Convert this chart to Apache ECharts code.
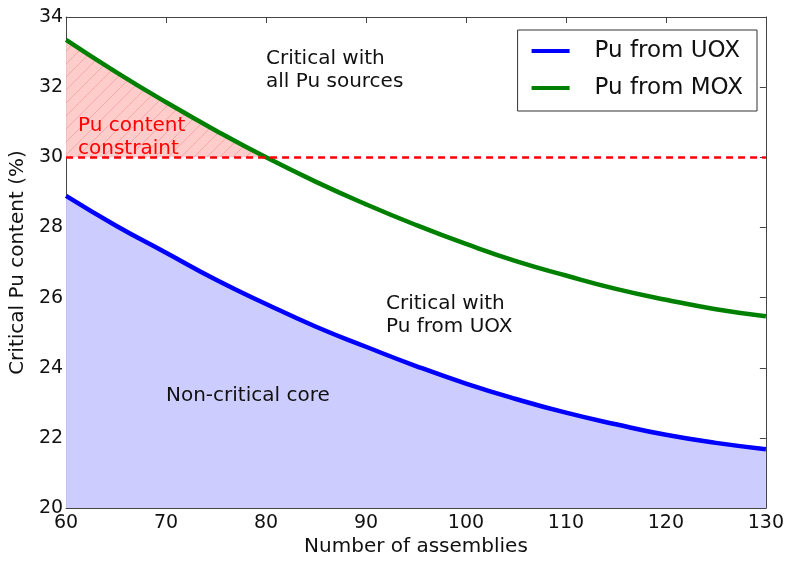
<!DOCTYPE html>
<html>
<head>
<meta charset="utf-8">
<script src="https://cdn.jsdelivr.net/npm/echarts@6/dist/echarts.min.js"></script>
<style>html,body{margin:0;padding:0;background:#fff}#c{width:787px;height:562px}</style>
</head>
<body>
<div id="c"></div>
<script>
// ---- data ----
const assemblies = [60, 65, 70, 75, 80, 85, 90, 95, 100, 105, 110, 115, 120, 125, 130];
const puUOX = [28.9, 28.05, 27.28, 26.51, 25.82, 25.17, 24.6, 24.05, 23.55, 23.11, 22.72, 22.39, 22.09, 21.86, 21.68];
const puMOX = [33.35, 32.43, 31.57, 30.76, 30.0, 29.3, 28.66, 28.07, 27.53, 27.04, 26.63, 26.25, 25.94, 25.67, 25.47];
const constraintLimit = 30;
const xTicks = [60, 70, 80, 90, 100, 110, 120, 130];
const yTicks = [20, 22, 24, 26, 28, 30, 32, 34];

const FONT = 'DejaVu Sans';
const uoxPts = assemblies.map((x, i) => [x, puUOX[i]]);
const moxPts = assemblies.map((x, i) => [x, puMOX[i]]);
const constraintPts = moxPts.filter(p => p[1] >= constraintLimit);

// hatch pattern
const pat = document.createElement('canvas');
pat.width = 13; pat.height = 13;
const g = pat.getContext('2d');
g.fillStyle = '#ffcccc'; g.fillRect(0, 0, 13, 13);
g.strokeStyle = '#f5aaaa'; g.lineWidth = 1;
[[0, 13, 13, 0], [-6.5, 6.5, 6.5, -6.5], [6.5, 19.5, 19.5, 6.5]].forEach(l => {
  g.beginPath(); g.moveTo(l[0], l[1]); g.lineTo(l[2], l[3]); g.stroke();
});

const chart = echarts.init(document.getElementById('c'), null, {renderer: 'canvas'});
const axisLine = {show: true, lineStyle: {color: '#444', width: 1}};
const tickIn = {show: true, inside: true, length: 6, lineStyle: {color: '#444'}};
chart.setOption({
  animation: false,
  backgroundColor: '#fff',
  textStyle: {fontFamily: FONT},
  grid: {left: 66, right: 19, top: 17, bottom: 52},
  legend: {
    data: ['Pu from UOX', 'Pu from MOX'],
    orient: 'vertical', right: 30, top: 30,
    icon: 'rect', itemWidth: 38, itemHeight: 4, itemGap: 11,
    padding: [8, 14, 10, 14],
    borderColor: '#333', borderWidth: 1, backgroundColor: '#fff',
    textStyle: {fontSize: 23, lineHeight: 26, color: '#111', fontFamily: FONT, padding: [0, 0, 0, 20]}
  },
  xAxis: [
    {type: 'value', min: 60, max: 130, interval: 10, position: 'bottom',
     name: 'Number of assemblies', nameLocation: 'middle', nameGap: 28,
     nameTextStyle: {fontSize: 20, color: '#111'},
     axisLine, axisTick: tickIn, splitLine: {show: false},
     axisLabel: {fontSize: 19, color: '#111', margin: 5}},
    {type: 'value', min: 60, max: 130, interval: 10, position: 'top',
     axisLine, axisTick: tickIn, splitLine: {show: false}, axisLabel: {show: false}}
  ],
  yAxis: [
    {type: 'value', min: 20, max: 34, interval: 2, position: 'left',
     name: 'Critical Pu content (%)', nameLocation: 'middle', nameGap: 27,
     nameTextStyle: {fontSize: 20, color: '#111'},
     axisLine, axisTick: tickIn, splitLine: {show: false},
     axisLabel: {fontSize: 19, color: '#111', margin: 3}},
    {type: 'value', min: 20, max: 34, interval: 2, position: 'right',
     axisLine, axisTick: tickIn, splitLine: {show: false}, axisLabel: {show: false}}
  ],
  series: [
    {name: 'constraint', type: 'line', data: constraintPts, smooth: true, showSymbol: false,
     lineStyle: {width: 0}, areaStyle: {origin: constraintLimit, color: {image: pat, repeat: 'repeat'}, opacity: 1},
     z: 1, silent: true},
    {name: 'Pu from UOX', type: 'line', data: uoxPts, smooth: true, showSymbol: false,
     lineStyle: {color: '#0000ff', width: 4.5}, itemStyle: {color: '#0000ff'},
     areaStyle: {origin: 'start', color: '#ccccff', opacity: 1}, z: 2},
    {name: 'Pu from MOX', type: 'line', data: moxPts, smooth: true, showSymbol: false,
     lineStyle: {color: '#008000', width: 4.5}, itemStyle: {color: '#008000'}, z: 4,
     markLine: {silent: true, symbol: 'none', label: {show: false},
       lineStyle: {color: '#ff0000', type: [7, 5], width: 2.5},
       data: [{yAxis: constraintLimit}]}}
  ],
  graphic: [
    {type: 'text', left: 266, top: 47, z: 10, style: {text: 'Critical with\nall Pu sources', fontSize: 20, lineHeight: 23, fill: '#111', fontFamily: FONT}},
    {type: 'text', left: 78, top: 114, z: 10, style: {text: 'Pu content\nconstraint', fontSize: 20, lineHeight: 23, fill: '#ff0000', fontFamily: FONT}},
    {type: 'text', left: 386, top: 292, z: 10, style: {text: 'Critical with\nPu from UOX', fontSize: 20, lineHeight: 23, fill: '#111', fontFamily: FONT}},
    {type: 'text', left: 166, top: 386, z: 10, style: {text: 'Non-critical core', fontSize: 20, fill: '#111', fontFamily: FONT}}
  ]
});
</script>
</body>
</html>
